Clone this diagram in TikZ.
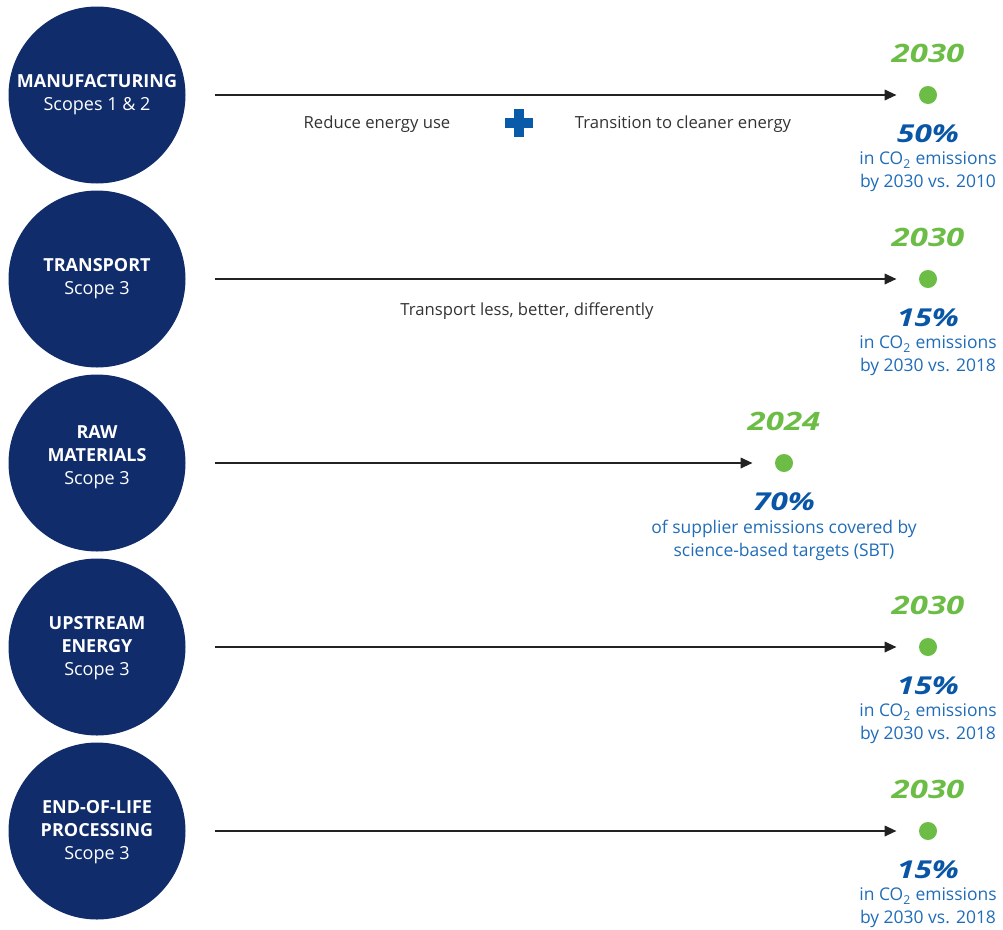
\documentclass[tikz,border=0pt]{standalone}
\usepackage{fontspec}
\setmainfont{Open Sans}
\usetikzlibrary{positioning,arrows.meta,calc}

\definecolor{hubnavy}{RGB}{16,44,107}
\definecolor{goalgreen}{RGB}{108,189,69}
\definecolor{pctblue}{RGB}{10,86,166}
\definecolor{noteblue}{RGB}{32,108,184}
\definecolor{plusblue}{RGB}{10,90,170}
\definecolor{levergray}{RGB}{51,51,51}
\definecolor{arrowblack}{RGB}{34,34,34}

\begin{document}
\begin{tikzpicture}[
  x=0.75pt, y=-0.75pt, >={Triangle[length=9pt,width=7.5pt]},
  hub/.style={circle, fill=hubnavy, minimum size=132.75pt, inner sep=0pt},
  hubtext/.style={text=white, align=center, inner sep=0pt,
                  font=\fontsize{13.5}{17.25}\selectfont},
  dot/.style={circle, fill=goalgreen, minimum size=13.5pt, inner sep=0pt},
  year/.style={text=goalgreen, inner sep=0pt, xscale=1.3, transform shape,
               font=\fontsize{19}{19}\selectfont\bfseries\itshape},
  pct/.style={text=pctblue, inner sep=0pt, anchor=base, xscale=1.28, transform shape,
              font=\fontsize{18.5}{18.5}\selectfont\bfseries\itshape},
  note/.style={text=noteblue, align=center, inner sep=0pt,
               font=\fontsize{13.1}{17.25}\selectfont},
  lever/.style={text=levergray, inner sep=0pt, anchor=base,
                font=\fontsize{12.5}{15}\selectfont},
  flow/.style={->, line width=2.2pt, draw=arrowblack,
               shorten <=21.75pt, shorten >=16.5pt},
]
  \useasboundingbox (0,0) rectangle (1003,929);

  % scope circles
  \node[hub] (manuf) at (97,95) {};
  \node[hub] (transp) at (97,279) {};
  \node[hub] (rawmat) at (97,463) {};
  \node[hub] (upstr) at (97,647) {};
  \node[hub] (eol) at (97,831) {};

  \node[hubtext] at (manuf) {\textbf{MANUFACTURING}\\Scopes 1 \& 2};
  \node[hubtext] at (transp) {\textbf{TRANSPORT}\\Scope 3};
  \node[hubtext] at ($(rawmat)+(0,-6)$) {\textbf{RAW}\\\textbf{MATERIALS}\\Scope 3};
  \node[hubtext] at ($(upstr)+(0,1)$) {\textbf{UPSTREAM}\\\textbf{ENERGY}\\Scope 3};
  \node[hubtext] at ($(eol)+(0,1)$) {\textbf{END-OF-LIFE}\\\textbf{PROCESSING}\\Scope 3};

  % targets
  \node[dot] (goal1) at (928,95) {};
  \node[dot] (goal2) at (928,279) {};
  \node[dot] (goal3) at (784,463) {};
  \node[dot] (goal4) at (928,647) {};
  \node[dot] (goal5) at (928,831) {};

  \foreach \g/\yr in {goal1/2030, goal2/2030, goal3/2024, goal4/2030, goal5/2030}
    \node[year, above=17pt of \g] {\yr};

  \node[pct] (pct1) at (928,142) {50\%};
  \node[pct] (pct2) at (928,326) {15\%};
  \node[pct] (pct3) at (784,510) {70\%};
  \node[pct] (pct4) at (928,694) {15\%};
  \node[pct] (pct5) at (928,878) {15\%};

  \node[note, below=7pt of pct1] {in CO\textsubscript{2} emissions\\by 2030 vs. 2010};
  \node[note, below=7pt of pct2] {in CO\textsubscript{2} emissions\\by 2030 vs. 2018};
  \node[note, below=7pt of pct3] {of supplier emissions covered by\\science-based targets (SBT)};
  \node[note, below=7pt of pct4] {in CO\textsubscript{2} emissions\\by 2030 vs. 2018};
  \node[note, below=7pt of pct5] {in CO\textsubscript{2} emissions\\by 2030 vs. 2018};

  % arrows
  \draw[flow] (manuf) -- (goal1);
  \draw[flow] (transp) -- (goal2);
  \draw[flow] (rawmat) -- (goal3);
  \draw[flow] (upstr) -- (goal4);
  \draw[flow] (eol) -- (goal5);

  % levers
  \node[lever] (reduce) at (377,128) {Reduce energy use};
  \node[lever] (clean) at (683,128) {Transition to cleaner energy};
  \fill[plusblue] (505,118) rectangle (533,128);
  \fill[plusblue] (514,109) rectangle (524,137);
  \node[lever] (shift) at (527,315) {Transport less, better, differently};
\end{tikzpicture}
\end{document}
